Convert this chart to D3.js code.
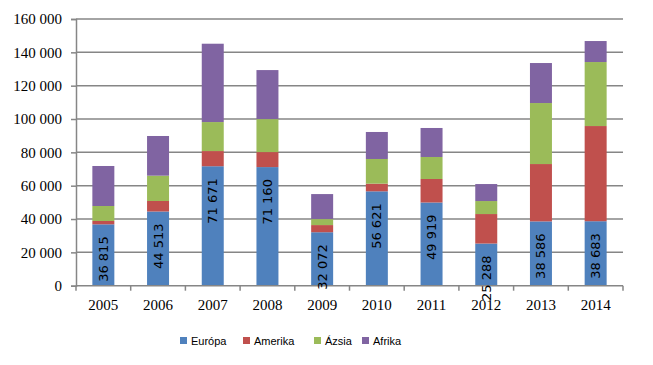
<!DOCTYPE html>
<html>
<head>
<meta charset="utf-8">
<script src="https://cdn.jsdelivr.net/npm/d3@7"></script>
<style>
  body { margin: 0; background: #fff; }
  svg { display: block; }
</style>
</head>
<body>
<div id="chart"></div>
<script>
// Data
const years   = ["2005", "2006", "2007", "2008", "2009", "2010", "2011", "2012", "2013", "2014"];
const europa  = [36815, 44513, 71671, 71160, 32072, 56621, 49919, 25288, 38586, 38683];
const amerika = [2000, 6300, 9100, 9000, 4300, 4600, 14100, 17700, 34400, 57100];
const azsia   = [9000, 15200, 17400, 19800, 3600, 14800, 13200, 7800, 36600, 38400];
const afrika  = [24000, 23800, 47000, 29400, 15000, 16200, 17400, 10200, 24000, 12600];
const seriesNames = ["Európa", "Amerika", "Ázsia", "Afrika"];
const yTicks = [0, 20000, 40000, 60000, 80000, 100000, 120000, 140000, 160000];

const colors = ["#4F81BD", "#C0504D", "#9BBB59", "#8064A2"];
const W = 653, H = 365;
const plot = { left: 76, right: 623, top: 19, bottom: 285.7 };

const rows = years.map((y, i) => ({
  year: y, "Európa": europa[i], "Amerika": amerika[i], "Ázsia": azsia[i], "Afrika": afrika[i]
}));

const svg = d3.select("#chart").append("svg")
  .attr("width", W).attr("height", H);

const x = d3.scaleBand().domain(years).range([plot.left, plot.right])
  .paddingInner(0.598).paddingOuter(0.299);
const y = d3.scaleLinear().domain([0, 160000]).range([plot.bottom, plot.top]);

const fmt = d => d3.format(",")(d).replace(/,/g, " ");

// gridlines
svg.append("g").selectAll("line")
  .data(yTicks.slice(1))
  .enter().append("line")
  .attr("x1", plot.left).attr("x2", plot.right)
  .attr("y1", d => y(d)).attr("y2", d => y(d))
  .attr("stroke", "#868686").attr("stroke-width", 1.5);

// stacked bars
const stacked = d3.stack().keys(seriesNames)(rows);
svg.append("g").selectAll("g")
  .data(stacked)
  .enter().append("g")
  .attr("fill", (d, i) => colors[i])
  .selectAll("rect")
  .data(d => d)
  .enter().append("rect")
  .attr("x", d => x(d.data.year))
  .attr("width", x.bandwidth())
  .attr("y", d => y(d[1]))
  .attr("height", d => y(d[0]) - y(d[1]));

// y axis
const yAxis = svg.append("g")
  .attr("transform", `translate(${plot.left},0)`)
  .call(d3.axisLeft(y).tickValues(yTicks).tickSize(5).tickPadding(9).tickFormat(fmt));
yAxis.select(".domain").attr("stroke", "#868686").attr("stroke-width", 1.5);
yAxis.selectAll(".tick line").attr("stroke", "#868686").attr("stroke-width", 1.5);
yAxis.selectAll("text")
  .attr("fill", "#000")
  .style("font-family", "'Liberation Serif', 'Times New Roman', serif")
  .style("font-size", "15px");

// x axis: ticks between categories
const xg = svg.append("g");
xg.append("line")
  .attr("x1", plot.left).attr("x2", plot.right)
  .attr("y1", plot.bottom).attr("y2", plot.bottom)
  .attr("stroke", "#868686").attr("stroke-width", 1.5);
const step = x.step();
xg.selectAll(".xt")
  .data(d3.range(years.length + 1))
  .enter().append("line")
  .attr("x1", i => plot.left + i * step).attr("x2", i => plot.left + i * step)
  .attr("y1", plot.bottom).attr("y2", plot.bottom + 5)
  .attr("stroke", "#868686").attr("stroke-width", 1.5);
xg.selectAll("text")
  .data(years)
  .enter().append("text")
  .attr("x", d => x(d) + x.bandwidth() / 2)
  .attr("y", 310)
  .attr("text-anchor", "middle")
  .style("font-family", "'Liberation Serif', 'Times New Roman', serif")
  .style("font-size", "15px")
  .text(d => d);

// Európa value labels (inside end, rotated)
svg.append("g").selectAll("text")
  .data(stacked[0])
  .enter().append("text")
  .attr("transform", d => `translate(${x(d.data.year) + x.bandwidth() / 2},${y(d[1]) + 12}) rotate(-90)`)
  .attr("text-anchor", "end")
  .attr("dominant-baseline", "central")
  .attr("fill", "#000")
  .style("font-family", "'DejaVu Sans', sans-serif")
  .style("font-size", "13px")
  .text(d => fmt(d.data["Európa"]));

// legend
const legendX = [180, 243, 314, 362];
const legend = svg.append("g");
seriesNames.forEach((name, i) => {
  legend.append("rect")
    .attr("x", legendX[i]).attr("y", 337)
    .attr("width", 7).attr("height", 7)
    .attr("fill", colors[i]);
  legend.append("text")
    .attr("x", legendX[i] + 11).attr("y", 341)
    .attr("dominant-baseline", "central")
    .style("font-family", "'Liberation Sans', Arial, sans-serif")
    .style("font-size", "11px")
    .text(name);
});
</script>
</body>
</html>
